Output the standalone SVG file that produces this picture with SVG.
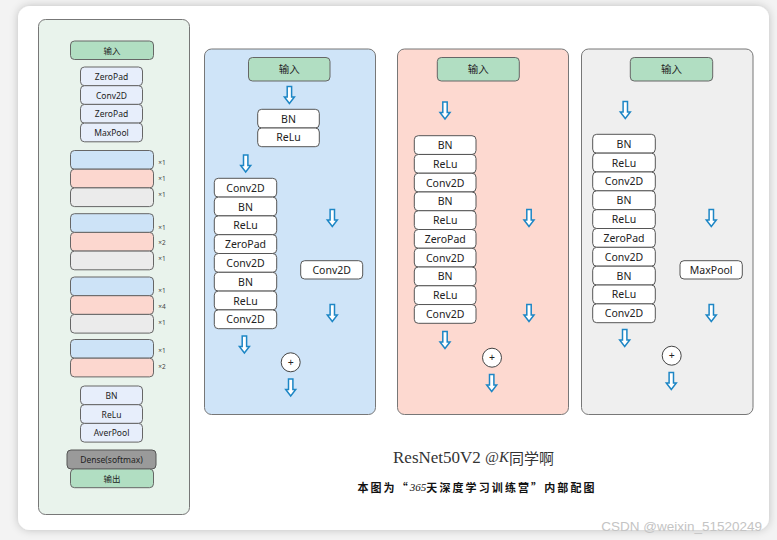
<svg xmlns="http://www.w3.org/2000/svg" xmlns:xlink="http://www.w3.org/1999/xlink" width="777" height="540" viewBox="0 0 777 540">
<defs>
<filter id="sh" x="-5%" y="-5%" width="110%" height="110%"><feDropShadow dx="0" dy="0" stdDeviation="4" flood-color="#000" flood-opacity="0.22"/></filter>
<path id="arr" d="M-2.2,0 H2.2 V10.5 H5 L0,17 L-5,10.5 H-2.2 Z"/>
<style>
text{font-family:"Noto Sans","Noto Sans CJK SC",sans-serif;text-anchor:middle;dominant-baseline:central;fill:#222}
.panel{stroke:#777;stroke-width:1}
.b{fill:#fff;stroke:#555;stroke-width:1}
.in{fill:#b1dec2;stroke:#666;stroke-width:1}
.lb{fill:#e7eefb;stroke:#666;stroke-width:1}
.cb{fill:#cde3f7;stroke:#666;stroke-width:1}
.cp{fill:#fcd7cf;stroke:#666;stroke-width:1}
.cg{fill:#ebebeb;stroke:#666;stroke-width:1}
.t{font-size:10.5px}
.s{font-size:8.5px}
.x{font-size:6.5px;fill:#444}
.arrow{fill:#fff;stroke:#1d86c5;stroke-width:1.5}
.plus{fill:#fff;stroke:#444;stroke-width:1}
</style>
</defs>
<rect x="0" y="0" width="777" height="540" fill="#f3f3f3"/>
<rect x="18" y="6" width="751" height="524" rx="12" fill="#fff" filter="url(#sh)"/>

<g id="overview">
<rect class="panel" x="38.5" y="19.5" width="151" height="495" rx="7" fill="#e9f3ec"/>
<g id="ov-input"><rect class="in" x="70.5" y="41" width="83" height="18.5" rx="4"/><text class="s" x="112" y="50.2">输入</text></g>
<g id="ov-stem">
<rect class="lb" x="80.5" y="67" width="62" height="18.7" rx="4"/><text class="s" x="111.5" y="76.3">ZeroPad</text>
<rect class="lb" x="80.5" y="85.7" width="62" height="18.7" rx="4"/><text class="s" x="111.5" y="95">Conv2D</text>
<rect class="lb" x="80.5" y="104.4" width="62" height="18.7" rx="4"/><text class="s" x="111.5" y="113.7">ZeroPad</text>
<rect class="lb" x="80.5" y="123.1" width="62" height="18.7" rx="4"/><text class="s" x="111.5" y="132.4">MaxPool</text>
</g>
<g id="ov-stage1">
<rect class="cb" x="70.5" y="150.5" width="83" height="18.7" rx="4"/>
<rect class="cp" x="70.5" y="169.2" width="83" height="18.7" rx="4"/>
<rect class="cg" x="70.5" y="187.9" width="83" height="18.7" rx="4"/>
<text class="x" x="162" y="162">×1</text><text class="x" x="162" y="178">×1</text><text class="x" x="162" y="194">×1</text>
</g>
<g id="ov-stage2">
<rect class="cb" x="70.5" y="213.7" width="83" height="18.7" rx="4"/>
<rect class="cp" x="70.5" y="232.4" width="83" height="18.7" rx="4"/>
<rect class="cg" x="70.5" y="251.1" width="83" height="18.7" rx="4"/>
<text class="x" x="162" y="227">×1</text><text class="x" x="162" y="242">×2</text><text class="x" x="162" y="258">×1</text>
</g>
<g id="ov-stage3">
<rect class="cb" x="70.5" y="277" width="83" height="18.7" rx="4"/>
<rect class="cp" x="70.5" y="295.7" width="83" height="18.7" rx="4"/>
<rect class="cg" x="70.5" y="314.4" width="83" height="18.7" rx="4"/>
<text class="x" x="162" y="290">×1</text><text class="x" x="162" y="306">×4</text><text class="x" x="162" y="322">×1</text>
</g>
<g id="ov-stage4">
<rect class="cb" x="70.5" y="339.5" width="83" height="18.7" rx="4"/>
<rect class="cp" x="70.5" y="358.2" width="83" height="18.7" rx="4"/>
<text class="x" x="162" y="350">×1</text><text class="x" x="162" y="366">×2</text>
</g>
<g id="ov-head">
<rect class="lb" x="80.5" y="386" width="62" height="18.7" rx="4"/><text class="s" x="111.5" y="395.3">BN</text>
<rect class="lb" x="80.5" y="404.7" width="62" height="18.7" rx="4"/><text class="s" x="111.5" y="414">ReLu</text>
<rect class="lb" x="80.5" y="423.4" width="62" height="18.7" rx="4"/><text class="s" x="111.5" y="432.7">AverPool</text>
</g>
<g id="ov-dense"><rect x="67" y="450" width="89" height="19" rx="4" fill="#9a9a9a" stroke="#555"/><text class="s" x="111.5" y="459.5">Dense(softmax)</text></g>
<g id="ov-output"><rect class="in" x="70.5" y="469" width="83" height="18.7" rx="4"/><text class="s" x="112" y="478.3">输出</text></g>
</g>

<g id="blue-block">
<rect class="panel" x="204.5" y="49" width="171" height="365.5" rx="7" fill="#cfe4f8"/>
<g id="bb-input"><rect class="in" x="248.5" y="57.5" width="81.5" height="23.5" rx="4"/><text class="t" x="289.3" y="69.2">输入</text></g>
<g id="bb-pre">
<rect class="b" x="257.7" y="109.3" width="61.6" height="18.7" rx="4"/><text class="t" x="288.5" y="118.6">BN</text>
<rect class="b" x="257.7" y="128" width="61.6" height="18.7" rx="4"/><text class="t" x="288.5" y="137.3">ReLu</text>
</g>
<g id="bb-main">
<rect class="b" x="214.3" y="178.3" width="62.4" height="18.8" rx="4"/><text class="t" x="245.5" y="187.7">Conv2D</text>
<rect class="b" x="214.3" y="197.1" width="62.4" height="18.8" rx="4"/><text class="t" x="245.5" y="206.5">BN</text>
<rect class="b" x="214.3" y="215.9" width="62.4" height="18.8" rx="4"/><text class="t" x="245.5" y="225.3">ReLu</text>
<rect class="b" x="214.3" y="234.7" width="62.4" height="18.8" rx="4"/><text class="t" x="245.5" y="244.1">ZeroPad</text>
<rect class="b" x="214.3" y="253.5" width="62.4" height="18.8" rx="4"/><text class="t" x="245.5" y="262.9">Conv2D</text>
<rect class="b" x="214.3" y="272.3" width="62.4" height="18.8" rx="4"/><text class="t" x="245.5" y="281.7">BN</text>
<rect class="b" x="214.3" y="291.1" width="62.4" height="18.8" rx="4"/><text class="t" x="245.5" y="300.5">ReLu</text>
<rect class="b" x="214.3" y="309.9" width="62.4" height="18.8" rx="4"/><text class="t" x="245.5" y="319.3">Conv2D</text>
</g>
<g id="bb-short"><rect class="b" x="300.7" y="260.7" width="62" height="18.3" rx="4"/><text class="t" x="331.7" y="269.9">Conv2D</text></g>
<g id="bb-add"><circle class="plus" cx="290.7" cy="362.3" r="9.5"/><text class="t" x="290.7" y="361.8">+</text></g>
</g>

<g id="pink-block">
<rect class="panel" x="397.5" y="49" width="171" height="365.5" rx="7" fill="#fdd9d0"/>
<g id="pb-input"><rect class="in" x="437.3" y="57.5" width="82" height="23.5" rx="4"/><text class="t" x="478.3" y="69.2">输入</text></g>
<g id="pb-main">
<rect class="b" x="414.3" y="135.7" width="61.7" height="18.76" rx="4"/><text class="t" x="445.2" y="145.1">BN</text>
<rect class="b" x="414.3" y="154.46" width="61.7" height="18.76" rx="4"/><text class="t" x="445.2" y="163.8">ReLu</text>
<rect class="b" x="414.3" y="173.22" width="61.7" height="18.76" rx="4"/><text class="t" x="445.2" y="182.6">Conv2D</text>
<rect class="b" x="414.3" y="191.98" width="61.7" height="18.76" rx="4"/><text class="t" x="445.2" y="201.4">BN</text>
<rect class="b" x="414.3" y="210.74" width="61.7" height="18.76" rx="4"/><text class="t" x="445.2" y="220.1">ReLu</text>
<rect class="b" x="414.3" y="229.5" width="61.7" height="18.76" rx="4"/><text class="t" x="445.2" y="238.9">ZeroPad</text>
<rect class="b" x="414.3" y="248.26" width="61.7" height="18.76" rx="4"/><text class="t" x="445.2" y="257.6">Conv2D</text>
<rect class="b" x="414.3" y="267.02" width="61.7" height="18.76" rx="4"/><text class="t" x="445.2" y="276.4">BN</text>
<rect class="b" x="414.3" y="285.78" width="61.7" height="18.76" rx="4"/><text class="t" x="445.2" y="295.2">ReLu</text>
<rect class="b" x="414.3" y="304.54" width="61.7" height="18.76" rx="4"/><text class="t" x="445.2" y="313.9">Conv2D</text>
</g>
<g id="pb-add"><circle class="plus" cx="492" cy="357.7" r="9.5"/><text class="t" x="492" y="357.2">+</text></g>
</g>

<g id="grey-block">
<rect class="panel" x="581.5" y="49" width="171.5" height="365.5" rx="7" fill="#efefef"/>
<g id="gb-input"><rect class="in" x="630.3" y="57.5" width="82.4" height="23.5" rx="4"/><text class="t" x="671.5" y="69.2">输入</text></g>
<g id="gb-main">
<rect class="b" x="592.7" y="134.3" width="62.6" height="18.84" rx="4"/><text class="t" x="624" y="143.7">BN</text>
<rect class="b" x="592.7" y="153.14" width="62.6" height="18.84" rx="4"/><text class="t" x="624" y="162.6">ReLu</text>
<rect class="b" x="592.7" y="171.98" width="62.6" height="18.84" rx="4"/><text class="t" x="624" y="181.4">Conv2D</text>
<rect class="b" x="592.7" y="190.82" width="62.6" height="18.84" rx="4"/><text class="t" x="624" y="200.2">BN</text>
<rect class="b" x="592.7" y="209.66" width="62.6" height="18.84" rx="4"/><text class="t" x="624" y="219.1">ReLu</text>
<rect class="b" x="592.7" y="228.5" width="62.6" height="18.84" rx="4"/><text class="t" x="624" y="237.9">ZeroPad</text>
<rect class="b" x="592.7" y="247.34" width="62.6" height="18.84" rx="4"/><text class="t" x="624" y="256.8">Conv2D</text>
<rect class="b" x="592.7" y="266.18" width="62.6" height="18.84" rx="4"/><text class="t" x="624" y="275.6">BN</text>
<rect class="b" x="592.7" y="285.02" width="62.6" height="18.84" rx="4"/><text class="t" x="624" y="294.4">ReLu</text>
<rect class="b" x="592.7" y="303.86" width="62.6" height="18.84" rx="4"/><text class="t" x="624" y="313.3">Conv2D</text>
</g>
<g id="gb-short"><rect class="b" x="680" y="260.7" width="62.3" height="18.3" rx="4"/><text class="t" x="711.2" y="269.9">MaxPool</text></g>
<g id="gb-add"><circle class="plus" cx="671.7" cy="355.7" r="9.5"/><text class="t" x="671.7" y="355.2">+</text></g>
</g>

<g id="connectors" class="arrow">
<use xlink:href="#arr" transform="translate(289.4,86.5)"/>
<use xlink:href="#arr" transform="translate(245.7,155)"/>
<use xlink:href="#arr" transform="translate(332.3,209.5)"/>
<use xlink:href="#arr" transform="translate(332.3,304.5)"/>
<use xlink:href="#arr" transform="translate(244.4,336)"/>
<use xlink:href="#arr" transform="translate(290.7,379)"/>
<use xlink:href="#arr" transform="translate(445,102)"/>
<use xlink:href="#arr" transform="translate(529,209.5)"/>
<use xlink:href="#arr" transform="translate(529,304.5)"/>
<use xlink:href="#arr" transform="translate(445,331.5)"/>
<use xlink:href="#arr" transform="translate(491.7,374.5)"/>
<use xlink:href="#arr" transform="translate(625.3,101.5)"/>
<use xlink:href="#arr" transform="translate(711.3,209.5)"/>
<use xlink:href="#arr" transform="translate(711.3,304.5)"/>
<use xlink:href="#arr" transform="translate(624.7,329.5)"/>
<use xlink:href="#arr" transform="translate(671.3,372.5)"/>
</g>

<g id="caption">
<text x="393" y="457" style="text-anchor:start;font-size:17px;fill:#333"><tspan style="font-family:'Liberation Serif',serif">ResNet50V2 </tspan><tspan style="font-family:'Liberation Serif',serif;font-style:italic;font-size:15px">@K</tspan><tspan style="font-family:'Noto Sans CJK SC',sans-serif;font-size:15px">同学啊</tspan></text>
<text x="477" y="487" style="font-size:11px;font-weight:bold;letter-spacing:2.1px;font-family:'Noto Sans CJK SC',sans-serif;fill:#111">本图为“<tspan style="font-family:'Liberation Serif',serif;font-style:italic;font-weight:normal;letter-spacing:0">365</tspan>天深度学习训练营”内部配图</text>
</g>
<text x="762" y="526" style="text-anchor:end;font-family:'Liberation Sans',sans-serif;font-size:13.5px;fill:#c4c4c4">CSDN @weixin_51520249</text>
</svg>
